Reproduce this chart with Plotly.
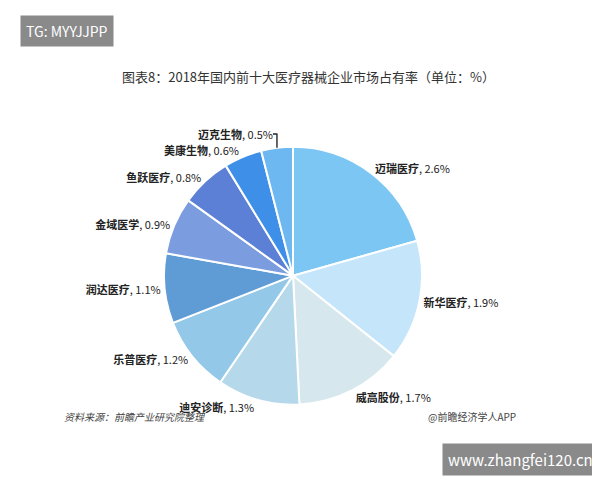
import plotly.graph_objects as go

labels = ["迈瑞医疗", "新华医疗", "威高股份", "迪安诊断", "乐普医疗", "润达医疗", "金域医学", "鱼跃医疗", "美康生物", "迈克生物"]
values = [2.6, 1.9, 1.7, 1.3, 1.2, 1.1, 0.9, 0.8, 0.6, 0.5]
colors = ["#7CC6F4", "#C4E5FA", "#D6E8EE", "#B5D8EA", "#93C8E8", "#5F9BD5", "#7B9DE0", "#5B80D6", "#3E8FE8", "#6DB8F0"]

fig = go.Figure(go.Pie(
    labels=labels, values=values, sort=False, direction="clockwise", rotation=0,
    marker=dict(colors=colors, line=dict(color="white", width=2)),
    texttemplate="<b>%{label}</b>, %{value}%", textposition="outside",
    textfont=dict(size=11, color="#222", family="Noto Sans CJK SC"),
    showlegend=False, domain=dict(x=[0.26, 0.69], y=[0.10, 0.78]),
))
fig.update_layout(
    width=600, height=480, paper_bgcolor="white", margin=dict(l=0, r=0, t=0, b=0),
    font=dict(family="Noto Sans CJK SC"),
    annotations=[
        dict(text="图表8：2018年国内前十大医疗器械企业市场占有率（单位：%）", x=0.5, y=0.88, xref="paper", yref="paper",
             showarrow=False, font=dict(size=13, color="#333")),
        dict(text="TG: MYYJJPP", x=0.02, y=0.985, xref="paper", yref="paper", xanchor="left", yanchor="top",
             showarrow=False, bgcolor="#8a8a8a", font=dict(size=14, color="white"), borderpad=5),
        dict(text="<i>资料来源：前瞻产业研究院整理</i>", x=0.09, y=0.125, xref="paper", yref="paper", xanchor="left",
             showarrow=False, font=dict(size=10, color="#444")),
        dict(text="@前瞻经济学人APP", x=0.85, y=0.125, xref="paper", yref="paper", xanchor="right",
             showarrow=False, font=dict(size=10, color="#444")),
        dict(text="www.zhangfei120.cn", x=0.985, y=0.02, xref="paper", yref="paper", xanchor="right", yanchor="bottom",
             showarrow=False, bgcolor="#8a8a8a", font=dict(size=15, color="white"), borderpad=5),
    ],
)
fig.write_html("out.html")
